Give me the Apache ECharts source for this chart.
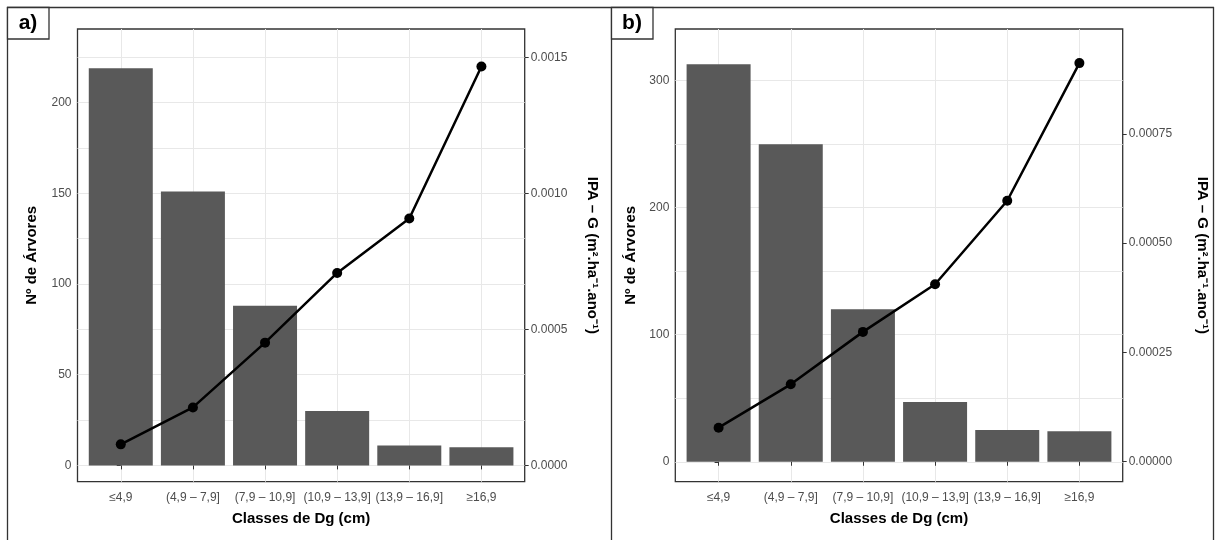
<!DOCTYPE html>
<html>
<head>
<meta charset="utf-8">
<script src="https://cdn.jsdelivr.net/npm/echarts@6/dist/echarts.min.js"></script>
<style>
html,body{margin:0;padding:0;background:#fff;}
#c{width:1218px;height:540px;}
</style>
</head>
<body>
<div id="c"></div>
<script>
// ---- data ----
const categories = ['≤4,9', '(4,9 – 7,9]', '(7,9 – 10,9]', '(10,9 – 13,9]', '(13,9 – 16,9]', '≥16,9'];
const arvoresA = [219, 151, 88, 30, 11, 10];
const ipaA = [0.0000783, 0.000214, 0.000452, 0.000708, 0.000908, 0.001466];
const arvoresB = [313, 250, 120, 47, 25, 24];
const ipaB = [0.0000778, 0.000177, 0.000297, 0.000406, 0.000597, 0.000912];
const leftTicksA = [0, 50, 100, 150, 200];
const rightTicksA = [0, 0.0005, 0.0010, 0.0015];
const leftTicksB = [0, 100, 200, 300];
const rightTicksB = [0, 0.00025, 0.00050, 0.00075];
const catIdx = categories.map((c, i) => i);

const FONT = 'Liberation Sans, Arial, sans-serif';
const TICKCOL = '#4d4d4d';
const FRAME = '#333333';
const GRIDC = '#e8e8e8';

const chart = echarts.init(document.getElementById('c'), null, {renderer: 'canvas'});

function panel(gi, left, right, arv, ipa, lTicks, rTicks, lRange, rRange, rDec, lGap, rGap) {
  const grid = {left: left, right: right, top: 29, bottom: 58.3, show: true, borderColor: FRAME, borderWidth: 1.3, backgroundColor: '#fff', containLabel: false};
  const xAxis = {
    type: 'value', gridIndex: gi, min: -0.6, max: 5.6, minInterval: 1, maxInterval: 1,
    axisLine: {show: false},
    axisTick: {show: true, length: 4, lineStyle: {color: FRAME, width: 1}, customValues: catIdx},
    axisLabel: {show: true, customValues: catIdx, color: TICKCOL, fontSize: 12, fontFamily: FONT, margin: 10,
      formatter: v => categories[Math.round(v)] || ''},
    splitLine: {show: true, lineStyle: {color: GRIDC, width: 1}},
    name: 'Classes de Dg (cm)', nameLocation: 'middle', nameGap: 30,
    nameTextStyle: {fontSize: 15, fontWeight: 'bold', color: '#000', fontFamily: FONT}
  };
  const yLeft = {
    type: 'value', gridIndex: gi, position: 'left', min: lRange[0], max: lRange[1],
    axisLine: {show: false},
    axisTick: {show: true, length: 4, lineStyle: {color: FRAME, width: 1}, customValues: lTicks},
    axisLabel: {show: true, customValues: lTicks, color: TICKCOL, fontSize: 12, fontFamily: FONT, margin: 6},
    splitLine: {show: true, lineStyle: {color: GRIDC, width: 1}},
    minorTick: {show: false, splitNumber: 2},
    minorSplitLine: {show: true, lineStyle: {color: GRIDC, width: 1}},
    name: 'Nº de Árvores', nameLocation: 'middle', nameRotate: 90, nameGap: lGap,
    nameTextStyle: {fontSize: 15, fontWeight: 'bold', color: '#000', fontFamily: FONT}
  };
  const yRight = {
    type: 'value', gridIndex: gi, position: 'right', min: rRange[0], max: rRange[1],
    axisLine: {show: false},
    axisTick: {show: true, length: 4, lineStyle: {color: FRAME, width: 1}, customValues: rTicks},
    axisLabel: {show: true, customValues: rTicks, color: TICKCOL, fontSize: 12, fontFamily: FONT, margin: 6,
      formatter: v => Number(v).toFixed(rDec)},
    splitLine: {show: false},
    name: 'IPA – G (m².ha⁻¹.ano⁻¹)', nameLocation: 'middle', nameRotate: -90, nameGap: rGap,
    nameTextStyle: {fontSize: 15, fontWeight: 'bold', color: '#000', fontFamily: FONT}
  };
  const bar = {
    type: 'bar', xAxisIndex: gi, yAxisIndex: gi * 2, barWidth: 64,
    itemStyle: {color: '#595959'},
    data: arv.map((v, i) => [catIdx[i], v]), z: 2
  };
  const line = {
    type: 'line', xAxisIndex: gi, yAxisIndex: gi * 2 + 1, symbol: 'circle', symbolSize: 10,
    itemStyle: {color: '#000'}, lineStyle: {color: '#000', width: 2.5},
    data: ipa.map((v, i) => [catIdx[i], v]), z: 3
  };
  return {grid, xAxis, yAxes: [yLeft, yRight], series: [bar, line]};
}

const pA = panel(0, 77.5, 1218 - 524.7, arvoresA, ipaA, leftTicksA, rightTicksA, [-9, 240.6], [-0.0000588, 0.001604], 4, 38, 60);
const pB = panel(1, 675.3, 1218 - 1122.7, arvoresB, ipaB, leftTicksB, rightTicksB, [-15.7, 340.7], [-0.0000458, 0.000990], 5, 37, 72);

const lineStyle = {stroke: FRAME, lineWidth: 1.3};
chart.setOption({
  animation: false,
  backgroundColor: '#fff',
  grid: [pA.grid, pB.grid],
  xAxis: [pA.xAxis, pB.xAxis],
  yAxis: [...pA.yAxes, ...pB.yAxes],
  series: [...pA.series, ...pB.series],
  graphic: [
    {type: 'line', shape: {x1: 7, y1: 7.5, x2: 1214, y2: 7.5}, style: lineStyle},
    {type: 'line', shape: {x1: 7.5, y1: 7, x2: 7.5, y2: 540}, style: lineStyle},
    {type: 'line', shape: {x1: 611.5, y1: 7, x2: 611.5, y2: 540}, style: lineStyle},
    {type: 'line', shape: {x1: 1213.5, y1: 7, x2: 1213.5, y2: 540}, style: lineStyle},
    {type: 'rect', shape: {x: 7.5, y: 7.5, width: 41.5, height: 31.5}, style: {fill: '#fff', stroke: FRAME, lineWidth: 1.3}},
    {type: 'text', x: 28, y: 23.5, style: {text: 'a)', font: 'bold 21px Liberation Sans, Arial, sans-serif', fill: '#000', align: 'center', verticalAlign: 'middle'}},
    {type: 'rect', shape: {x: 611.5, y: 7.5, width: 41.5, height: 31.5}, style: {fill: '#fff', stroke: FRAME, lineWidth: 1.3}},
    {type: 'text', x: 632, y: 23.5, style: {text: 'b)', font: 'bold 21px Liberation Sans, Arial, sans-serif', fill: '#000', align: 'center', verticalAlign: 'middle'}}
  ]
});
</script>
</body>
</html>
